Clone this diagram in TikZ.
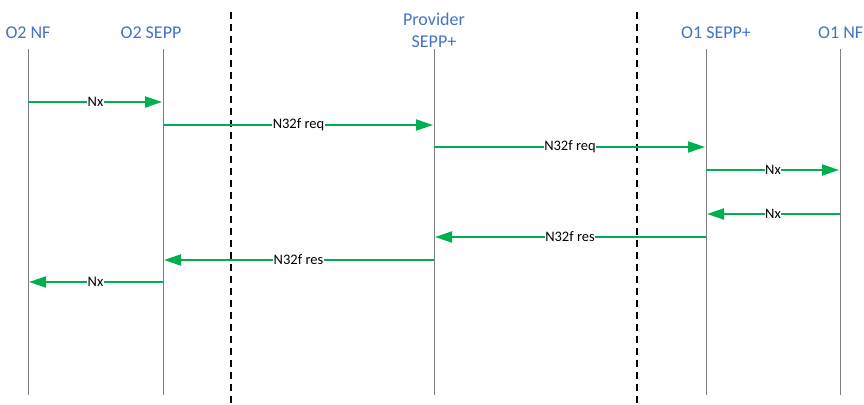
\documentclass[tikz,border=0pt]{standalone}
\usepackage{fontspec}
\setmainfont{Carlito}
\usetikzlibrary{arrows.meta}
\definecolor{hdrblue}{HTML}{4472C4}
\definecolor{msggreen}{HTML}{00B050}
\definecolor{lifegray}{HTML}{7F7F7F}
\tikzset{
  hdr/.style={text=hdrblue, font=\fontsize{18}{22}\selectfont, align=center, inner sep=0pt},
  life/.style={draw=lifegray, line width=0.9pt},
  divider/.style={draw=black, line width=1.3pt, dash pattern=on 7pt off 5pt},
  msg/.style={draw=msggreen, line width=2pt, -{Triangle[length=17pt,width=11pt]}, shorten >=1pt},
  lbl/.style={fill=white, text=black, font=\fontsize{14.5}{16}\selectfont, inner sep=0.5pt}
}
\begin{document}
\begin{tikzpicture}[x=1pt,y=-1pt]
\useasboundingbox (0,0) rectangle (864,404);
% headers
\node[hdr] (h1) at (28,33) {O2 NF};
\node[hdr] (h2) at (151,33) {O2 SEPP};
\node[hdr] (h3) at (434,30) {Provider\\SEPP+};
\node[hdr] (h4) at (716,33) {O1 SEPP+};
\node[hdr, anchor=west] (h5) at (818,33) {O1 NF};
% lifelines
\foreach \n/\x in {a/28,b/163,c/434,d/706,e/840}{
  \coordinate (\n top) at (\x,49);
  \coordinate (\n bot) at (\x,395);
  \draw[life] (\n top) -- (\n bot);
}
\foreach \n/\x in {a/28,b/163,c/434,d/706,e/840}{
  \foreach \i/\y in {1/102,2/125,3/147,4/170,5/214,6/237,7/260,8/282}{
    \coordinate (\n\i) at (\x,\y);
  }
}
% dividers
\coordinate (l1t) at (231,12); \coordinate (l1b) at (231,404);
\coordinate (l2t) at (637,12); \coordinate (l2b) at (637,404);
\draw[divider] (l1t) -- (l1b);
\draw[divider] (l2t) -- (l2b);
% messages
\draw[msg] (a1) -- node[lbl] {Nx} (b1);
\draw[msg] (b2) -- node[lbl] {N32f req} (c2);
\draw[msg] (c3) -- node[lbl] {N32f req} (d3);
\draw[msg] (d4) -- node[lbl] {Nx} (e4);
\draw[msg] (e5) -- node[lbl] {Nx} (d5);
\draw[msg] (d6) -- node[lbl] {N32f res} (c6);
\draw[msg] (c7) -- node[lbl] {N32f res} (b7);
\draw[msg] (b8) -- node[lbl] {Nx} (a8);
\end{tikzpicture}
\end{document}
